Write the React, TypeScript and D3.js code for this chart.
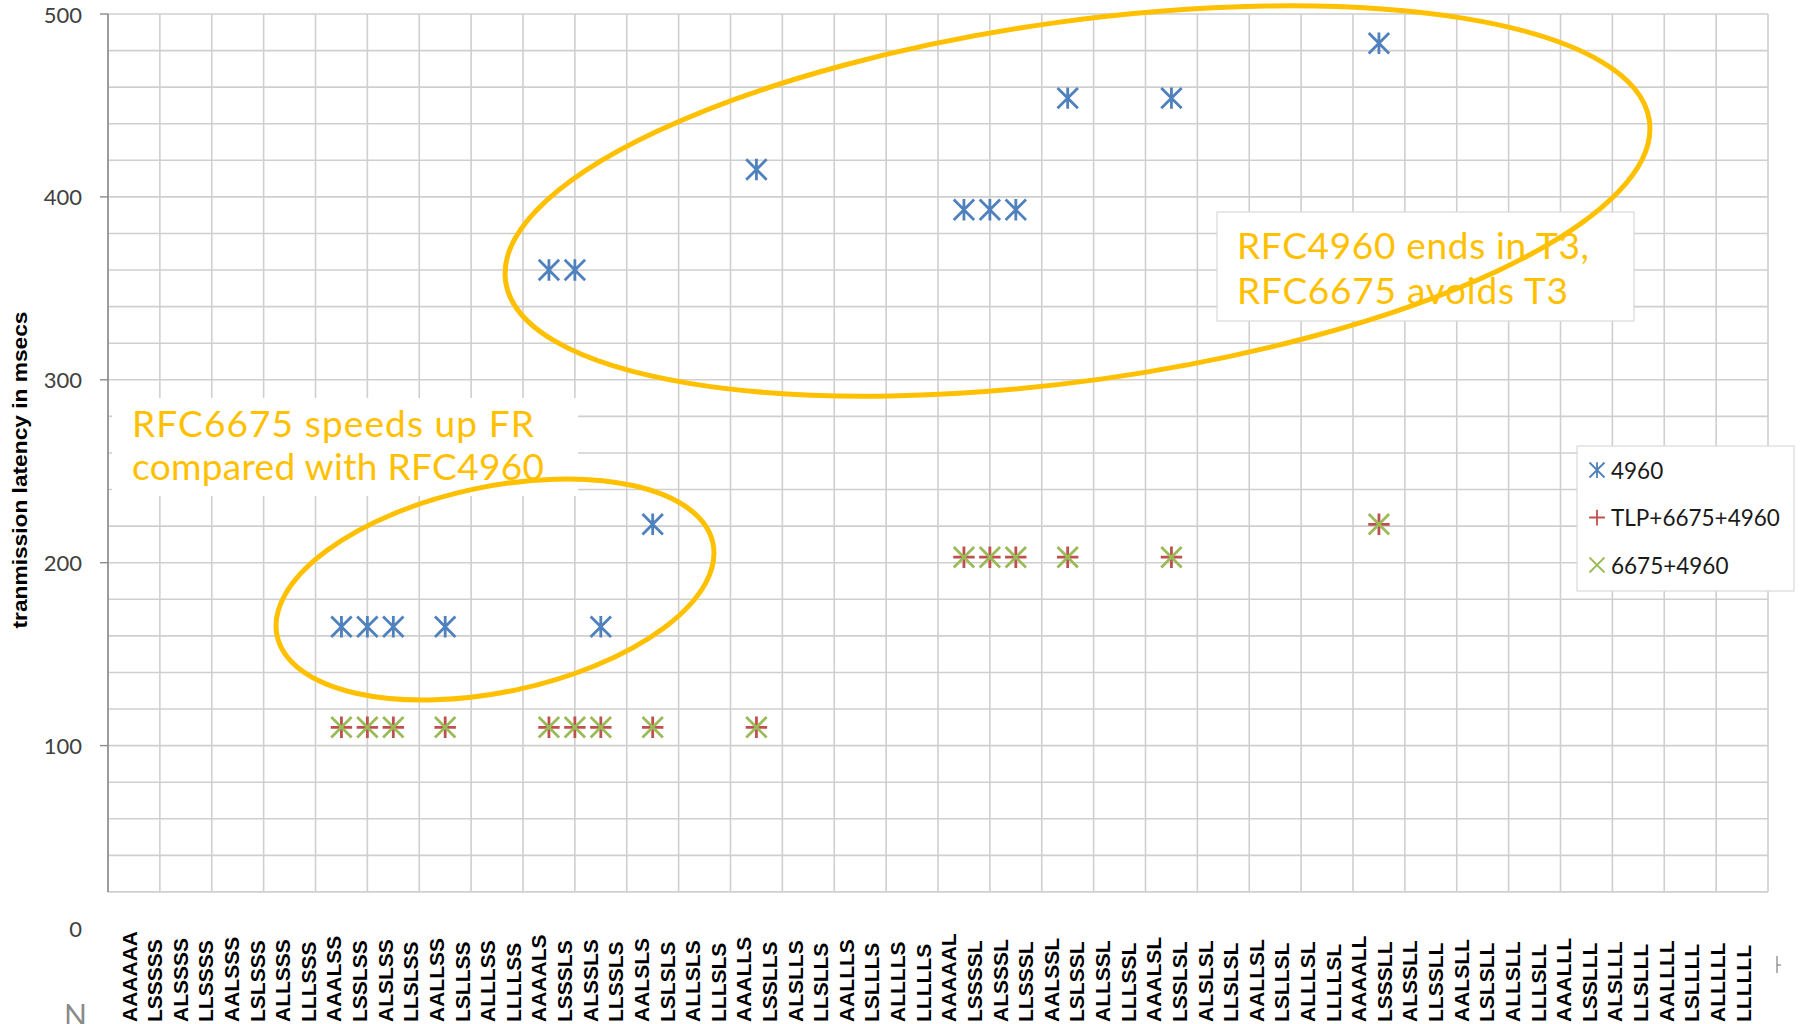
import React from 'react';
import * as d3 from 'd3';

// ---------- data ----------
const categories = [
  'AAAAAA','LSSSSS','ALSSSS','LLSSSS','AALSSS','LSLSSS','ALLSSS','LLLSSS',
  'AAALSS','LSSLSS','ALSLSS','LLSLSS','AALLSS','LSLLSS','ALLLSS','LLLLSS',
  'AAAALS','LSSSLS','ALSSLS','LLSSLS','AALSLS','LSLSLS','ALLSLS','LLLSLS',
  'AAALLS','LSSLLS','ALSLLS','LLSLLS','AALLLS','LSLLLS','ALLLLS','LLLLLS',
  'AAAAAL','LSSSSL','ALSSSL','LLSSSL','AALSSL','LSLSSL','ALLSSL','LLLSSL',
  'AAALSL','LSSLSL','ALSLSL','LLSLSL','AALLSL','LSLLSL','ALLLSL','LLLLSL',
  'AAAALL','LSSSLL','ALSSLL','LLSSLL','AALSLL','LSLSLL','ALLSLL','LLLSLL',
  'AAALLL','LSSLLL','ALSLLL','LLSLLL','AALLLL','LSLLLL','ALLLLL','LLLLLL',
];

const cases4960 = ['AAALSS','LSSLSS','ALSLSS','AALLSS','AAAALS','LSSSLS','ALSSLS','AALSLS','AAALLS','AAAAAL','LSSSSL','ALSSSL','AALSSL','AAALSL','AAAALL'];
const latency4960 = [165,165,165,165,360,360,165,221,415,393,393,393,454,454,484];

const casesTLP = ['AAALSS','LSSLSS','ALSLSS','AALLSS','AAAALS','LSSSLS','ALSSLS','AALSLS','AAALLS','AAAAAL','LSSSSL','ALSSSL','AALSSL','AAALSL','AAAALL'];
const latencyTLP = [110,110,110,110,110,110,110,110,110,203,203,203,203,203,221];

const cases6675 = ['AAALSS','LSSLSS','ALSLSS','AALLSS','AAAALS','LSSSLS','ALSSLS','AALSLS','AAALLS','AAAAAL','LSSSSL','ALSSSL','AALSSL','AAALSL','AAAALL'];
const latency6675 = [110,110,110,110,110,110,110,110,110,203,203,203,203,203,221];

const yTicks = [0, 100, 200, 300, 400, 500];
const yGridValues = d3.range(20, 501, 20);
const seriesNames = ['4960', 'TLP+6675+4960', '6675+4960'];
const yTitle = 'tranmission latency in msecs';
const noteFR = ['RFC6675 speeds up FR', 'compared with RFC4960'];
const noteT3 = ['RFC4960 ends in T3,', 'RFC6675 avoids T3'];

// ---------- layout ----------
const W = 1800, H = 1024;
const plotL = 108, plotR = 1768, plotTop = 14;
const step = (plotR - plotL) / 64;
const BLUE = '#4F81BD', RED = '#C0504D', GREEN = '#9BBB59', GOLD = '#FFC000';
const GRID = '#cfcfcf';
const noteFRWidths = [402, 412];
const noteT3Widths = [352, 331];

const x = d3.scalePoint<string>().domain(categories).range([plotL + step, plotR]);
const xLabel = d3.scalePoint<string>().domain(categories).range([129, 1743]);
const y = d3.scaleLinear().domain([0, 500]).range([928.5, plotTop]);
const plotBottom = y(20);

type MType = 'star' | 'plus' | 'cross';

function Marker({ type, cx, cy, r, color, sw }: { type: MType; cx: number; cy: number; r: number; color: string; sw: number }) {
  const parts: string[] = [];
  if (type === 'star' || type === 'cross') {
    parts.push(`M${cx - r},${cy - r}L${cx + r},${cy + r}`);
    parts.push(`M${cx - r},${cy + r}L${cx + r},${cy - r}`);
  }
  if (type === 'star' || type === 'plus') {
    parts.push(`M${cx},${cy - r * 1.05}L${cx},${cy + r * 1.05}`);
  }
  if (type === 'plus') {
    parts.push(`M${cx - r * 1.05},${cy}L${cx + r * 1.05},${cy}`);
  }
  return <path d={parts.join('')} stroke={color} strokeWidth={sw} fill="none" />;
}

const series = [
  { name: seriesNames[0], cases: cases4960, values: latency4960, type: 'star' as MType, color: BLUE },
  { name: seriesNames[1], cases: casesTLP, values: latencyTLP, type: 'plus' as MType, color: RED },
  { name: seriesNames[2], cases: cases6675, values: latency6675, type: 'cross' as MType, color: GREEN },
];

export default function App() {
  const vGrid = [plotL, ...categories.filter((_, i) => i % 2 === 1).map((c) => x(c) as number)];
  const labelFont = 'Lato, "Open Sans", sans-serif';
  return (
    <div style={{ position: 'absolute', left: 0, top: 0, width: W, height: H, background: '#fff' }}>
      <svg width={W} height={H} style={{ display: 'block' }}>
        <rect x={0} y={0} width={W} height={H} fill="#fff" />
        {/* grid */}
        {yGridValues.map((v) => (
          <line key={'h' + v} x1={plotL} x2={plotR} y1={y(v)} y2={y(v)} stroke={GRID} strokeWidth={1.6} />
        ))}
        {vGrid.map((gx, i) => (
          <line key={'v' + i} x1={gx} x2={gx} y1={plotTop} y2={plotBottom} stroke={GRID} strokeWidth={1.6} />
        ))}
        {/* y axis */}
        <line x1={plotL} x2={plotL} y1={plotTop} y2={plotBottom} stroke="#8c8c8c" strokeWidth={1.6} />
        {yTicks.filter((v) => v >= 20).map((v) => (
          <line key={'t' + v} x1={plotL - 8} x2={plotL} y1={y(v)} y2={y(v)} stroke="#8c8c8c" strokeWidth={1.4} />
        ))}
        {yTicks.map((v) => (
          <text key={'yl' + v} x={82} y={y(v)} textAnchor="end" dominantBaseline="central"
            fontFamily={labelFont} fontSize={22} fill="#404040">{v}</text>
        ))}
        <text transform={`translate(27,470) rotate(-90)`} textAnchor="middle"
          fontFamily='"Liberation Sans", Arial, sans-serif' fontWeight="bold" fontSize={21}
          textLength={317} lengthAdjust="spacingAndGlyphs" fill="#000">{yTitle}</text>

        {/* x labels */}
        {categories.map((c) => (
          <text key={'xl' + c} transform={`translate(${(xLabel(c) as number) + 7.5},1022) rotate(-90)`}
            textAnchor="start" fontFamily='"Liberation Sans", Arial, sans-serif' fontWeight="bold"
            fontSize={21} fill="#000">{c}</text>
        ))}
        <text x={64} y={1026} fontFamily={labelFont} fontSize={30} fill="#8a8a8a">N</text>
        <line x1={1777} x2={1777} y1={956} y2={973} stroke="#666" strokeWidth={1} />
        <line x1={1777} x2={1781} y1={965} y2={965} stroke="#666" strokeWidth={1} />

        {/* annotation boxes */}
        <rect x={112} y={398} width={466} height={98} fill="#fff" />
        <rect x={1217} y={212} width={417} height={109} fill="#fff" stroke="#d9d9d9" strokeWidth={1.2} />

        {/* ellipses */}
        <ellipse cx={1077.5} cy={201} rx={577.5} ry={179.6} transform="rotate(-8 1077.5 201)"
          fill="none" stroke={GOLD} strokeWidth={5} />
        <ellipse cx={495} cy={589.5} rx={222.8} ry={102.6} transform="rotate(-12 495 589.5)"
          fill="none" stroke={GOLD} strokeWidth={5} />

        {/* notes */}
        {noteFR.map((t, i) => (
          <text key={'n1' + i} x={132} y={422.5 + i * 42.5} dominantBaseline="central"
            fontFamily={labelFont} fontSize={37} textLength={noteFRWidths[i]} lengthAdjust="spacing" fill={GOLD}>{t}</text>
        ))}
        {noteT3.map((t, i) => (
          <text key={'n2' + i} x={1237} y={244.5 + i * 44.5} dominantBaseline="central"
            fontFamily={labelFont} fontSize={37} textLength={noteT3Widths[i]} lengthAdjust="spacing" fill={GOLD}>{t}</text>
        ))}

        {/* markers */}
        {series.map((s) => (
          <g key={s.name}>
            {s.cases.map((c, i) => (
              <Marker key={c} type={s.type} cx={x(c) as number} cy={y(s.values[i])} r={10.2} color={s.color} sw={2.8} />
            ))}
          </g>
        ))}

        {/* legend */}
        <rect x={1577} y={446} width={217} height={145} fill="#fff" stroke="#d9d9d9" strokeWidth={1.2} />
        {series.map((s, i) => (
          <g key={'lg' + s.name}>
            <Marker type={s.type} cx={1597} cy={470 + i * 47.5} r={7.5} color={s.color} sw={1.8} />
            <text x={1611} y={470 + i * 47.5} dominantBaseline="central" fontFamily={labelFont}
              fontSize={22.5} fill="#1a1a1a">{s.name}</text>
          </g>
        ))}
      </svg>
    </div>
  );
}
